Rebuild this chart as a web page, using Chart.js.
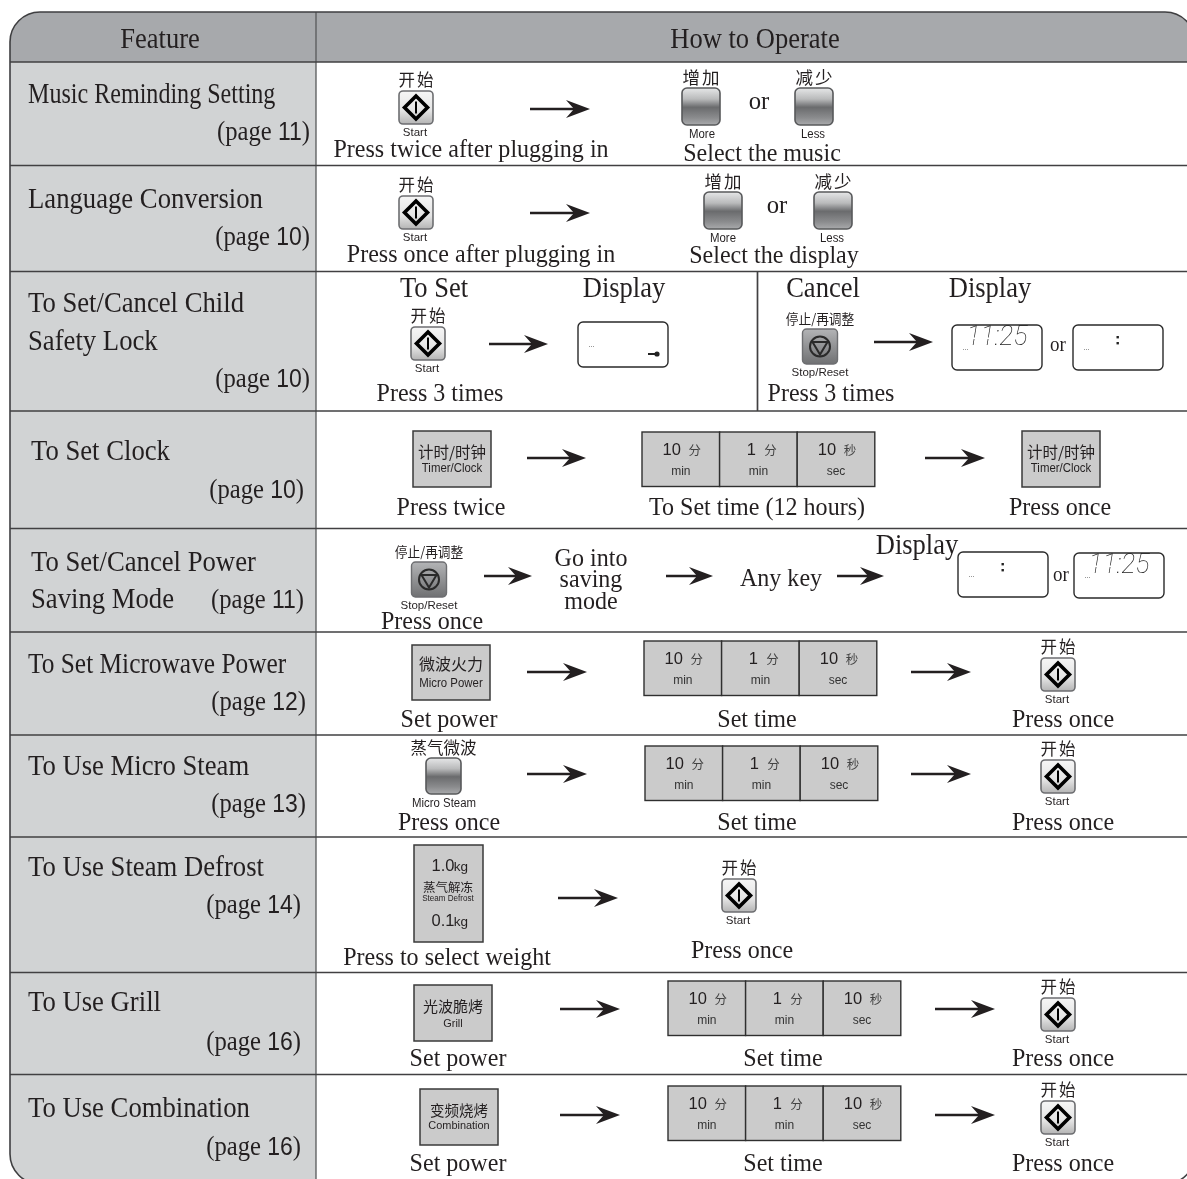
<!DOCTYPE html>
<html>
<head>
<meta charset="utf-8">
<style>
	html, body { margin: 0; padding: 0; background: #fff; }
	canvas { display: block; }
</style>
<script src="https://cdn.jsdelivr.net/npm/chart.js@4/dist/chart.umd.min.js"></script>
</head>
<body>
<canvas id="tableChart" width="1187" height="1179"></canvas>
<script>
const tableHeaders = ['Feature', 'How to Operate'];
const featureNames = ['Music Reminding Setting', 'Language Conversion', 'To Set/Cancel Child', 'Safety Lock', 'To Set Clock', 'To Set/Cancel Power', 'Saving Mode', 'To Set Microwave Power', 'To Use Micro Steam', 'To Use Steam Defrost', 'To Use Grill', 'To Use Combination'];
const featurePages = ['11', '10', '10', '10', '11', '12', '13', '14', '16', '16'];
const rowEdges = [62, 165.5, 271.5, 411, 528.5, 632, 735, 837, 972.5, 1074.5];
const columnEdges = [316];
const captions = ['Press twice after plugging in', 'Select the music', 'Press once after plugging in', 'Select the display', 'To Set', 'Display', 'Press 3 times', 'Cancel', 'Press twice', 'To Set time (12 hours)', 'Press once', 'Go into', 'saving', 'mode', 'Any key', 'Set power', 'Set time', 'Press to select weight', 'or'];
const startLabels = ['开始', 'Start'];
const moreLabels = ['增加', 'More'];
const lessLabels = ['减少', 'Less'];
const stopLabels = ['停止/再调整', 'Stop/Reset'];
const steamLabels = ['蒸气微波', 'Micro Steam'];
const timerLabels = ['计时/时钟', 'Timer/Clock'];
const powerLabels = ['微波火力', 'Micro Power'];
const grillLabels = ['光波脆烤', 'Grill'];
const comboLabels = ['变频烧烤', 'Combination'];
const defrostLabels = ['1.0', 'kg', '蒸气解冻', 'Steam Defrost', '0.1'];
const timeLabels = [['10', '分', 'min'], ['1', '分', 'min'], ['10', '秒', 'sec']];
const clockText = '11:25';

const SERIF = '"Liberation Serif", serif';
const SANS = '"Liberation Sans", Arial, sans-serif';
const CJK = '"Noto Sans CJK SC", sans-serif';

var c, sx, sy;

// text helper, squeeze is a horizontal scale because the print is narrow
const txt = (s, x, y, font, opts) => {
	opts = opts || {};
	c.save();
	c.translate(sx(x), sy(y));
	c.scale(opts.squeeze || 1, 1);
	c.font = font;
	c.fillStyle = opts.color || '#231f20';
	c.textAlign = opts.align || 'center';
	c.textBaseline = 'middle';
	if (opts.spacing) c.letterSpacing = opts.spacing + 'px';
	c.fillText(s, 0, 0);
	c.restore();
};

const cap = (i, x, y) => txt(captions[i], x, y + 1.5, '26px ' + SERIF, { squeeze: 0.925 });
const head = (s, x, y) => txt(s, x, y + 1, '29px ' + SERIF, { squeeze: 0.915 });
const orText = (x, y, size) => txt(captions[18], x, y + 1, size + 'px ' + SERIF, { squeeze: 0.95 });

const rrect = (x, y, w, h, r) => {
	c.beginPath();
	c.roundRect(sx(x), sy(y), w, h, r);
};

const arrow = (x1, x2, y) => {
	const a = sx(x1), b = sx(x2), m = sy(y);
	c.strokeStyle = '#231f20';
	c.lineWidth = 2.4;
	c.beginPath();
	c.moveTo(a, m);
	c.lineTo(b - 12, m);
	c.stroke();
	c.fillStyle = '#231f20';
	c.beginPath();
	c.moveTo(b, m);
	c.lineTo(b - 24, m - 9);
	c.lineTo(b - 16, m);
	c.lineTo(b - 24, m + 9);
	c.closePath();
	c.fill();
};

const startKey = (cx, top) => {
	txt(startLabels[0], cx + 1, top - 11, '16.5px ' + CJK, { spacing: 2 });
	const x = cx - 17;
	const g = c.createLinearGradient(0, sy(top), 0, sy(top + 33));
	g.addColorStop(0, '#f6f6f6');
	g.addColorStop(0.6, '#e4e4e4');
	g.addColorStop(1, '#b4b4b4');
	rrect(x, top, 34, 33, 4);
	c.fillStyle = g;
	c.fill();
	c.strokeStyle = '#6d6e71';
	c.lineWidth = 1.6;
	c.stroke();
	const mx = sx(cx), my = sy(top + 16.5);
	c.strokeStyle = '#000';
	c.lineWidth = 3.6;
	c.beginPath();
	c.moveTo(mx, my - 11.5);
	c.lineTo(mx + 11.5, my);
	c.lineTo(mx, my + 11.5);
	c.lineTo(mx - 11.5, my);
	c.closePath();
	c.stroke();
	c.lineWidth = 2;
	c.beginPath();
	c.moveTo(mx, my - 6);
	c.lineTo(mx, my + 6);
	c.stroke();
	txt(startLabels[1], cx - 1, top + 42, '11.5px ' + SANS);
};

const gradientKey = (labels, x, top, w, h, labelDy, size, spacing, subCx) => {
	txt(labels[0], x + w / 2 + spacing / 2, top - labelDy, size + 'px ' + CJK, { spacing: spacing });
	const g = c.createLinearGradient(0, sy(top), 0, sy(top + h));
	g.addColorStop(0, '#e6e7e8');
	g.addColorStop(0.3, '#b9babb');
	g.addColorStop(0.52, '#6a6b6d');
	g.addColorStop(0.8, '#8a8b8d');
	g.addColorStop(1, '#a9aaac');
	rrect(x, top, w, h, 5);
	c.fillStyle = g;
	c.fill();
	c.strokeStyle = '#58595b';
	c.lineWidth = 1.6;
	c.stroke();
	txt(labels[1], subCx, top + h + 10, '12px ' + SANS, { squeeze: 0.95 });
};

const stopKey = (cx, top) => {
	txt(stopLabels[0], cx, top - 10, '13.5px ' + CJK, { squeeze: 0.94 });
	const g = c.createLinearGradient(0, sy(top), 0, sy(top + 35));
	g.addColorStop(0, '#b3b4b6');
	g.addColorStop(1, '#707173');
	rrect(cx - 17.5, top, 35, 35, 4);
	c.fillStyle = g;
	c.fill();
	c.strokeStyle = '#6d6e71';
	c.lineWidth = 1.4;
	c.stroke();
	const mx = sx(cx), my = sy(top + 17.5);
	c.strokeStyle = '#2a2a2a';
	c.lineWidth = 2;
	c.beginPath();
	c.arc(mx, my, 10, 0, Math.PI * 2);
	c.stroke();
	c.beginPath();
	c.moveTo(mx - 7.5, my - 4.5);
	c.lineTo(mx + 7.5, my - 4.5);
	c.lineTo(mx, my + 8);
	c.closePath();
	c.stroke();
	txt(stopLabels[1], cx, top + 44, '11.5px ' + SANS);
};

const squareKey = (labels, x, top, w, h, y1, y2, size1, size2) => {
	c.fillStyle = '#cbcbcb';
	c.fillRect(sx(x), sy(top), w, h);
	c.strokeStyle = '#3a3a3a';
	c.lineWidth = 1.5;
	c.strokeRect(sx(x), sy(top), w, h);
	txt(labels[0], x + w / 2, y1, size1 + 'px ' + CJK);
	txt(labels[1], x + w / 2, y2, size2 + 'px ' + SANS, { squeeze: 0.95 });
};

const defrostKey = (x, top, w, h) => {
	c.fillStyle = '#cbcbcb';
	c.fillRect(sx(x), sy(top), w, h);
	c.strokeStyle = '#3a3a3a';
	c.lineWidth = 1.5;
	c.strokeRect(sx(x), sy(top), w, h);
	txt(defrostLabels[0], x + 29, top + 21, '16.5px ' + SANS);
	txt(defrostLabels[1], x + 47, top + 22, '13.5px ' + SANS);
	txt(defrostLabels[2], x + 34, top + 42, '12.5px ' + CJK);
	txt(defrostLabels[3], x + 34, top + 54, '8.5px ' + SANS, { squeeze: 0.95 });
	txt(defrostLabels[4], x + 29, top + 76, '16.5px ' + SANS);
	txt(defrostLabels[1], x + 47, top + 77, '13.5px ' + SANS);
};

const timeKeys = (x, top) => {
	const w = 77.6, h = 54.5;
	timeLabels.forEach((t, i) => {
		const l = x + i * w;
		c.fillStyle = '#cbcbcb';
		c.fillRect(sx(l), sy(top), w, h);
		c.strokeStyle = '#2f2f2f';
		c.lineWidth = 1.4;
		c.strokeRect(sx(l), sy(top), w, h);
		txt(t[0], l + w / 2 - 9 + (t[0].length === 1 ? 2 : 0), top + 18, '16.5px ' + SANS);
		txt(t[1], l + w / 2 + 14 - (t[0].length === 1 ? 2 : 0), top + 18, '12.5px ' + CJK, { color: '#444' });
		txt(t[2], l + w / 2, top + 40, '12px ' + SANS, { color: '#333' });
	});
};

const displayBox = (x, top, mode) => {
	rrect(x, top, 90, 45, 5);
	c.strokeStyle = '#2a2a2a';
	c.lineWidth = 1.4;
	c.stroke();
	// the faint tick of dots left on the screen
	c.fillStyle = '#999';
	for (let i = 0; i < 3; i++) c.fillRect(sx(x + 11 + i * 2), sy(top + 24), 1, 1);
	if (mode === 'clock') {
		txt(clockText, x + 45, top + 13, 'italic 100 27px Roboto, sans-serif', { color: '#222', squeeze: 0.98 });
		// segments of the two ones leave a gap halfway up
		c.fillStyle = '#fff';
		c.fillRect(sx(x + 15), sy(top + 12.5), 24, 1.5);
	}
	if (mode === 'colon') {
		c.fillStyle = '#222';
		c.fillRect(sx(x + 43.5), sy(top + 11), 2.4, 2.4);
		c.fillRect(sx(x + 43.5), sy(top + 17), 2.4, 2.4);
	}
	if (mode === 'key') {
		c.fillStyle = '#222';
		c.fillRect(sx(x + 70), sy(top + 31), 7, 2);
		c.beginPath();
		c.arc(sx(x + 79), sy(top + 32), 2.6, 0, Math.PI * 2);
		c.fill();
	}
};

const pageLabel = (p, right, y) => {
	c.save();
	c.font = '28px ' + SERIF;
	const w3 = c.measureText(')').width * 0.88;
	c.font = '25px ' + SANS;
	const w2 = c.measureText(p).width * 0.92;
	c.restore();
	txt(')', right, y, '28px ' + SERIF, { align: 'right', squeeze: 0.88 });
	txt(p, right - w3, y, '25px ' + SANS, { align: 'right', squeeze: 0.92 });
	txt('(page ', right - w3 - w2, y, '28px ' + SERIF, { align: 'right', squeeze: 0.88 });
};

const outline = () => {
	// the table runs a little past the right and bottom of the page
	rrect(10, 12, 1185, 1172, 30);
};

const tablePlugin = {
	id: 'tablePlugin',
	beforeDatasetsDraw(chart) {
		c = chart.ctx;
		sx = v => chart.scales.x.getPixelForValue(v);
		sy = v => chart.scales.y.getPixelForValue(v);
		c.save();
		outline();
		c.clip();
		c.fillStyle = '#a7a9ac';
		c.fillRect(sx(0), sy(0), 1187, sy(rowEdges[0]));
		c.fillStyle = '#d1d3d4';
		c.fillRect(sx(0), sy(rowEdges[0]), sx(columnEdges[0]), 1179);
		c.restore();
	},
	afterDatasetsDraw(chart) {
		c = chart.ctx;
		c.save();
		outline();
		c.strokeStyle = '#3f3f41';
		c.lineWidth = 1.6;
		c.stroke();

		head(tableHeaders[0], 160, 39);
		head(tableHeaders[1], 755, 39);

		// feature column
		const fx = [28, 28, 28, 28, 31, 31, 31, 28, 28, 28, 28, 28];
		const fy = [95, 200, 304, 342, 452, 563, 600, 665, 767, 868, 1003, 1109];
		const fs = [0.83, 0.92, 0.92, 0.92, 0.92, 0.92, 0.92, 0.875, 0.92, 0.92, 0.92, 0.92];
		featureNames.forEach((f, i) => txt(f, fx[i], fy[i], '29px ' + SERIF, { align: 'left', squeeze: fs[i] }));
		const pr = [310, 310, 310, 304, 304, 306, 306, 301, 301, 301];
		const py = [133, 238, 380, 491, 601, 703, 805, 906, 1043, 1148];
		featurePages.forEach((p, i) => pageLabel(p, pr[i], py[i]));

		// music
		startKey(416, 91);
		arrow(530, 590, 109);
		gradientKey(moreLabels, 682, 88, 38, 37, 11, 17.5, 2, 702);
		orText(759, 101, 26);
		gradientKey(lessLabels, 795, 88, 38, 37, 11, 17.5, 2, 813);
		cap(0, 471, 149);
		cap(1, 762, 153);

		// language
		startKey(416, 196);
		arrow(530, 590, 213);
		gradientKey(moreLabels, 704, 192, 38, 37, 11, 17.5, 2, 723);
		orText(777, 205, 26);
		gradientKey(lessLabels, 814, 192, 38, 37, 11, 17.5, 2, 832);
		cap(2, 481, 254);
		cap(3, 774, 255);

		// child lock
		head(captions[4], 434, 288);
		head(captions[5], 624, 288);
		startKey(428, 327);
		arrow(489, 548, 344);
		displayBox(578, 322, 'key');
		cap(6, 440, 393);
		head(captions[7], 823, 288);
		head(captions[5], 990, 288);
		stopKey(820, 329);
		arrow(874, 933, 342);
		displayBox(952, 325, 'clock');
		orText(1058, 345, 20);
		displayBox(1073, 325, 'colon');
		cap(6, 831, 393);

		// clock
		squareKey(timerLabels, 413, 431, 78, 56, 452, 469, 15.5, 12);
		arrow(527, 586, 458);
		timeKeys(642, 432);
		arrow(925, 985, 458);
		squareKey(timerLabels, 1022, 431, 78, 56, 452, 469, 15.5, 12);
		cap(8, 451, 507);
		cap(9, 757, 507);
		cap(10, 1060, 507);

		// power saving
		stopKey(429, 562);
		arrow(484, 532, 576);
		cap(11, 591, 558);
		cap(12, 591, 579);
		cap(13, 591, 601);
		arrow(666, 713, 576);
		cap(14, 781, 578);
		arrow(837, 884, 576);
		head(captions[5], 917, 545);
		displayBox(958, 552, 'colon');
		orText(1061, 575, 20);
		displayBox(1074, 553, 'clock');
		cap(10, 432, 621);

		// microwave power
		squareKey(powerLabels, 412, 645, 78, 55, 664, 684, 16, 12);
		arrow(527, 587, 672);
		timeKeys(644, 641);
		arrow(911, 971, 672);
		startKey(1058, 658);
		cap(15, 449, 719);
		cap(16, 757, 719);
		cap(10, 1063, 719);

		// micro steam
		gradientKey(steamLabels, 426, 758, 35, 36, 10, 16.5, 0, 444);
		arrow(527, 587, 774);
		timeKeys(645, 746);
		arrow(911, 971, 774);
		startKey(1058, 760);
		cap(10, 449, 822);
		cap(16, 757, 822);
		cap(10, 1063, 822);

		// steam defrost
		defrostKey(414, 845, 69, 97);
		arrow(558, 618, 898);
		startKey(739, 879);
		cap(17, 447, 957);
		cap(10, 742, 950);

		// grill
		squareKey(grillLabels, 414, 985, 78, 56, 1006, 1024, 15, 11.5);
		arrow(560, 620, 1009);
		timeKeys(668, 981);
		arrow(935, 995, 1009);
		startKey(1058, 998);
		cap(15, 458, 1058);
		cap(16, 783, 1058);
		cap(10, 1063, 1058);

		// combination
		squareKey(comboLabels, 420, 1089, 78, 56, 1110, 1126, 14.5, 11.5);
		arrow(560, 620, 1115);
		timeKeys(668, 1086);
		arrow(935, 995, 1115);
		startKey(1058, 1101);
		cap(15, 458, 1163);
		cap(16, 783, 1163);
		cap(10, 1063, 1163);
		c.restore();
	}
};

const ruleColor = '#414042';
const rules = rowEdges.map(y => ({
	data: [{ x: 10, y: y }, { x: 1187, y: y }],
	showLine: true, pointRadius: 0, borderColor: ruleColor, borderWidth: 1.7
}));
// column divider, then the short divider inside the child lock row
rules.push({ data: [{ x: columnEdges[0], y: 12 }, { x: columnEdges[0], y: 1179 }], showLine: true, pointRadius: 0, borderColor: '#58595b', borderWidth: 1.3 });
rules.push({ data: [{ x: 757.5, y: rowEdges[2] }, { x: 757.5, y: rowEdges[3] }], showLine: true, pointRadius: 0, borderColor: ruleColor, borderWidth: 1.7 });

new Chart(document.getElementById('tableChart').getContext('2d'), {
	type: 'scatter',
	data: { datasets: rules },
	options: {
		responsive: false,
		animation: false,
		layout: { padding: 0 },
		plugins: { legend: { display: false }, tooltip: { enabled: false }, title: { display: false } },
		scales: {
			x: { type: 'linear', min: 0, max: 1187, display: false },
			y: { type: 'linear', min: 0, max: 1179, reverse: true, display: false }
		}
	},
	plugins: [tablePlugin]
});
</script>
</body>
</html>
